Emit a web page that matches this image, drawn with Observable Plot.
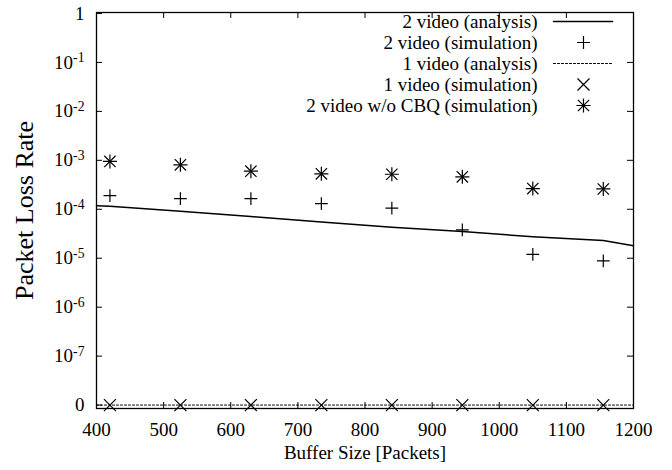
<!DOCTYPE html>
<html><head><meta charset="utf-8">
<script src="https://cdn.jsdelivr.net/npm/d3@7"></script>
<script src="https://cdn.jsdelivr.net/npm/@observablehq/plot@0.6"></script>
<style>
body{margin:0;background:#fff;}
#chart svg, #chart svg *{font-family:"Liberation Serif","Times New Roman",serif !important;}
</style>
</head><body><div id="chart"></div>
<script>
// ---- data ----
const bufferSizes = [420, 525, 630, 735, 840, 945, 1050, 1155];
const twoVideoSim = [1.9e-4, 1.65e-4, 1.65e-4, 1.3e-4, 1.06e-4, 3.8e-5, 1.2e-5, 8.8e-6];
const twoVideoNoCBQ = [9.5e-4, 8.1e-4, 6.0e-4, 5.3e-4, 5.2e-4, 4.6e-4, 2.65e-4, 2.6e-4];
const oneVideoSim = [0, 0, 0, 0, 0, 0, 0, 0];
const analysisX = [400, 420, 525, 630, 735, 840, 945, 1050, 1155, 1200];
const twoVideoAnalysis = [1.18e-4, 1.15e-4, 9.1e-5, 7.1e-5, 5.5e-5, 4.3e-5, 3.5e-5, 2.75e-5, 2.3e-5, 1.8e-5];
const oneVideoAnalysis = [0, 0, 0, 0, 0, 0, 0, 0, 0, 0];
const xTicks = [400, 500, 600, 700, 800, 900, 1000, 1100, 1200];
const yTicks = [1e-8, 1e-7, 1e-6, 1e-5, 1e-4, 1e-3, 1e-2, 1e-1, 1];
const yTickLabels = ["0", "10^-7", "10^-6", "10^-5", "10^-4", "10^-3", "10^-2", "10^-1", "1"];
const legendLabels = ["2 video (analysis)", "2 video (simulation)", "1 video (analysis)", "1 video (simulation)", "2 video w/o CBQ (simulation)"];
const xLabel = "Buffer Size [Packets]";
const yLabel = "Packet Loss Rate";

// zero is drawn at the "0" position of the log axis
const ZERO = 1e-8;
const yv = v => (v === 0 ? ZERO : v);

const W = 672, H = 470;
const M = {top: 12, right: 39, bottom: 62, left: 96};
const innerW = W - M.left - M.right, innerH = H - M.top - M.bottom;
const FS = 19;
const yDomain = [Math.pow(10, -8.07), Math.pow(10, 0.02)];

const sims = bufferSizes.map((x, i) => ({x, two: twoVideoSim[i], nocbq: twoVideoNoCBQ[i], one: oneVideoSim[i]}));
const anal = analysisX.map((x, i) => ({x, two: twoVideoAnalysis[i], one: oneVideoAnalysis[i]}));

const tickLen = 6;
const marks = [
  Plot.frame({stroke: "black", strokeWidth: 1.3}),
  // inward ticks on all four sides
  Plot.tickY(yTicks, {y: d => d, insetRight: innerW - tickLen, stroke: "black", strokeWidth: 1}),
  Plot.tickY(yTicks.slice(1, -1), {y: d => d, insetLeft: innerW - tickLen, stroke: "black", strokeWidth: 1}),
  Plot.tickX(xTicks.slice(1, -1), {x: d => d, insetTop: innerH - tickLen, stroke: "black", strokeWidth: 1}),
  Plot.tickX(xTicks.slice(1, -1), {x: d => d, insetBottom: innerH - tickLen, stroke: "black", strokeWidth: 1}),
  Plot.axisX({ticks: xTicks, tickSize: 0, tickPadding: 14, fontSize: FS, label: null, tickFormat: d => String(d)}),
  Plot.axisY({ticks: yTicks, tickSize: 0, tickPadding: 12, fontSize: FS, label: null,
    tickFormat: d => yTickLabels[yTicks.indexOf(d)]}),
  // data
  Plot.line(anal, {x: "x", y: d => yv(d.one), stroke: "black", strokeWidth: 1, strokeDasharray: "2,2"}),
  Plot.line(anal, {x: "x", y: d => yv(d.two), stroke: "black", strokeWidth: 1.5}),
  Plot.dot(sims, {x: "x", y: d => yv(d.two), symbol: "plus", r: 4.2, stroke: "black", strokeWidth: 1.2}),
  Plot.dot(sims, {x: "x", y: d => yv(d.one), symbol: "times", r: 5.5, stroke: "black", strokeWidth: 1.2}),
  Plot.dot(sims, {x: "x", y: d => yv(d.nocbq), symbol: "plus", r: 4.6, stroke: "black", strokeWidth: 1.2}),
  Plot.dot(sims, {x: "x", y: d => yv(d.nocbq), symbol: "times", r: 5.2, stroke: "black", strokeWidth: 1.2}),
  // axis titles
  Plot.text([xLabel], {frameAnchor: "bottom", dy: 44, fontSize: 19, lineAnchor: "middle", text: d => d}),
  Plot.text([yLabel], {frameAnchor: "left", dx: -72, fontSize: 26, rotate: -90, textAnchor: "middle", lineAnchor: "middle", text: d => d})
];

// legend (inside, top right)
const rowY = i => 21 + i * 21;
const textRight = 96;   // distance from right frame to text end
legendLabels.forEach((lab, i) => {
  marks.push(Plot.text([lab], {frameAnchor: "top-right", dx: -textRight, dy: rowY(i) - M.top, textAnchor: "end", lineAnchor: "middle", fontSize: FS, text: d => d}));
});
const xs = d3.scaleLinear().domain([400, 1200]).range([M.left, W - M.right]);
const ylog = d3.scaleLog().domain(yDomain).range([H - M.bottom, M.top]);
const sx1 = xs.invert(553), sx2 = xs.invert(612), sxc = xs.invert(583);
const lg = [0, 1, 2, 3, 4].map(i => ylog.invert(rowY(i)));
marks.push(
  Plot.line([{x: sx1, y: lg[0]}, {x: sx2, y: lg[0]}], {x: "x", y: "y", stroke: "black", strokeWidth: 1.5}),
  Plot.dot([{x: sxc, y: lg[1]}], {x: "x", y: "y", symbol: "plus", r: 4.2, stroke: "black", strokeWidth: 1.2}),
  Plot.line([{x: sx1, y: lg[2]}, {x: sx2, y: lg[2]}], {x: "x", y: "y", stroke: "black", strokeWidth: 1, strokeDasharray: "2,2"}),
  Plot.dot([{x: sxc, y: lg[3]}], {x: "x", y: "y", symbol: "times", r: 5.5, stroke: "black", strokeWidth: 1.2}),
  Plot.dot([{x: sxc, y: lg[4]}], {x: "x", y: "y", symbol: "plus", r: 4.6, stroke: "black", strokeWidth: 1.2}),
  Plot.dot([{x: sxc, y: lg[4]}], {x: "x", y: "y", symbol: "times", r: 5.2, stroke: "black", strokeWidth: 1.2})
);

const chart = Plot.plot({
  width: W, height: H,
  marginTop: M.top, marginRight: M.right, marginBottom: M.bottom, marginLeft: M.left,
  style: {fontSize: FS + "px", color: "black", background: "white"},
  x: {domain: [400, 1200], axis: null},
  y: {type: "log", domain: yDomain, axis: null},
  marks
});
document.getElementById("chart").appendChild(chart);

// superscripts for y tick labels
d3.select(chart).selectAll('g[aria-label="y-axis tick label"] text').each(function () {
  const t = this.textContent;
  const m = t.match(/^10\^(.+)$/);
  if (m) {
    const sel = d3.select(this);
    sel.text("10");
    sel.append("tspan").attr("dy", "-0.45em").attr("font-size", "0.72em").text(m[1]);
  }
});
</script>
</body></html>
